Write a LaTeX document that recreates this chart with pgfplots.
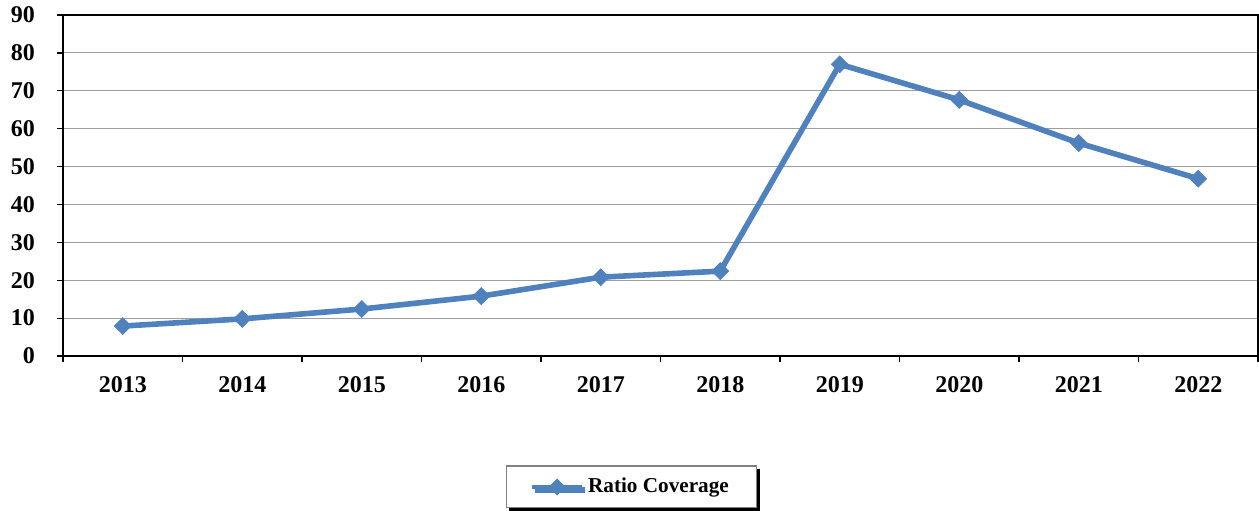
\documentclass[border=0pt]{standalone}
\usepackage{fontspec}
\setmainfont{Liberation Serif}
\usepackage{pgfplots}
\pgfplotsset{compat=1.18}
\usetikzlibrary{shadows}
\definecolor{serblue}{HTML}{4F81BD}
\pgfplotstableread{
x y
0 7.9
1 9.8
2 12.4
3 15.8
4 20.8
5 22.4
6 77.0
7 67.6
8 56.2
9 46.8
}\ratiodata
\begin{document}
\begin{tikzpicture}
\path[use as bounding box] (-31.5pt,-77pt) rectangle (598pt,178pt);
\begin{axis}[
  name=ax,
  at={(0pt,0pt)}, anchor=south west,
  scale only axis,
  width=597.5pt, height=170.5pt,
  xmin=-0.5, xmax=9.5,
  ymin=0, ymax=90,
  ytick={0,10,...,90},
  xtick={-0.5,0.5,...,9.5},
  x tick label as interval,
  xticklabels={2013,2014,2015,2016,2017,2018,2019,2020,2021,2022},
  tick pos=left,
  tick align=outside,
  major tick length=3pt,
  tick style={black, line width=0.6pt},
  ymajorgrids,
  grid style={color=black!38, line width=0.5pt},
  axis line style={black, line width=0.8pt},
  font=\fontsize{12}{14}\selectfont\bfseries,
  /pgf/number format/assume math mode=true,
  yticklabel style={xshift=-7.5pt},
  xticklabel style={yshift=-3.5pt},
  legend style={
    at={(axis description cs:0.4757,-0.384)}, anchor=center,
    draw=black!50, line width=0.6pt,
    fill=white,
    inner xsep=12pt, inner ysep=4pt,
    font=\fontsize{10.6}{12}\selectfont\bfseries,
    drop shadow={shadow xshift=1.6pt, shadow yshift=-1.6pt, fill=black, opacity=1},
    /tikz/every even column/.append style={column sep=0pt},
  },
  legend image code/.code={
    \draw[line width=2pt] (0pt,0pt) -- (25pt,0pt);
    \path plot[mark=square*, mark size=1.6pt, mark options={fill=serblue, draw=serblue, rotate=45}] coordinates {(12.5pt,0pt)};
  },
]
\addplot[color=serblue, line width=2.8pt, mark=square*, mark size=3pt,
  mark options={line width=0.3pt, fill=serblue, rotate=45}]
  table[x=x, y=y] {\ratiodata};
\addlegendentry{Ratio Coverage}
\end{axis}
\end{tikzpicture}
\end{document}
